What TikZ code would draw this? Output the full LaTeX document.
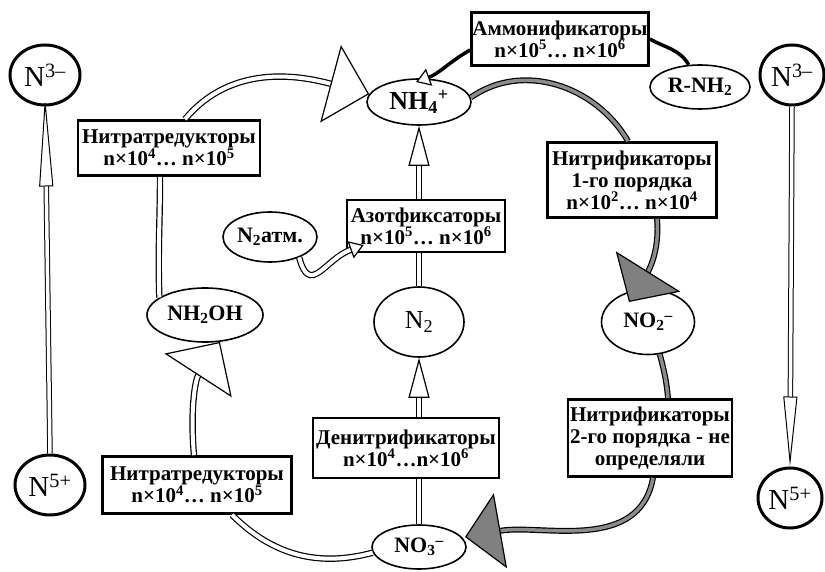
\documentclass[tikz,border=0pt]{standalone}
\usepackage{fontspec}
\setmainfont{Liberation Serif}
\usetikzlibrary{shapes.geometric, arrows.meta, positioning}

\begin{document}
\begin{tikzpicture}[x=1pt, y=1pt,
		box/.style = {rectangle, draw, line width=2.6pt, fill=white, align=center, inner sep=1pt, font=\bfseries\fontsize{21}{22}\selectfont},
		ion/.style = {ellipse, draw, line width=1.6pt, fill=white, inner sep=0pt, font=\bfseries\fontsize{22}{24}\selectfont},
		ox/.style = {ellipse, draw, line width=3pt, fill=white, inner sep=0pt, minimum width=70pt, minimum height=60pt, font=\fontsize{29}{30}\selectfont},
		dline/.style = {draw, line width=1.2pt, double=white, double distance=4pt},
		gline/.style = {draw, line width=1.2pt, double=black!45, double distance=3.5pt},
		bigopen/.style = {-{Triangle[length=40pt, width=80pt, fill=white, line width=1.2pt]}},
		biggray/.style = {-{Triangle[length=36pt, width=76pt, fill=black!50, line width=1.2pt]}},
		upopen/.style = {-{Triangle[length=40pt, width=21pt, fill=white, line width=1.2pt]}},
		smallopen/.style = {-{Triangle[length=14pt, width=18pt, fill=white, line width=1.2pt]}},
		sidetip/.style = {-{Triangle[length=#1, width=14pt, fill=white, line width=1pt]}}
	]
	
	\useasboundingbox (0,0) rectangle (825,571);
	
	% Oxidation states
	\node[ox] (n3left) at (45,496) {N\textsuperscript{3–}};
	\node[ox] (n5left) at (50,86) {N\textsuperscript{5+}};
	\node[ox, minimum width=64pt] (n3right) at (792,496) {N\textsuperscript{3–}};
	\node[ox, minimum width=64pt] (n5right) at (790,73) {N\textsuperscript{5+}};
	
	% Compounds
	\node[ion, minimum width=104pt, minimum height=46pt, font=\bfseries\fontsize{26}{28}\selectfont] (nh4) at (419,469) {NH\textsubscript{4}\textsuperscript{+}};
	\node[ion, minimum width=100pt, minimum height=44pt] (rnh2) at (700,484) {R-NH\textsubscript{2}};
	\node[ion, minimum width=94pt, minimum height=50pt] (n2atm) at (270,334) {N\textsubscript{2}атм.};
	\node[ion, minimum width=116pt, minimum height=54pt] (nh2oh) at (205,256) {NH\textsubscript{2}OH};
	\node[ion, minimum width=90pt, minimum height=70pt, font=\fontsize{26}{28}\selectfont] (n2) at (419,249) {N\textsubscript{2}};
	\node[ion, minimum width=93pt, minimum height=65pt] (no2) at (648,249) {NO\textsubscript{2}\textsuperscript{–}};
	\node[ion, minimum width=94pt, minimum height=44pt] (no3) at (419,24) {NO\textsubscript{3}\textsuperscript{–}};
	
	% Microorganisms
	\node[box, minimum width=176pt, minimum height=53pt] (ammon) at (560,532) {Аммонификаторы\\n×10\textsuperscript{5}… n×10\textsuperscript{6}};
	\node[box, minimum width=182pt, minimum height=55pt] (nitrred1) at (169,423) {Нитратредукторы\\n×10\textsuperscript{4}… n×10\textsuperscript{5}};
	\node[box, minimum width=158pt, minimum height=52pt] (azotfix) at (426,345) {Азотфиксаторы\\n×10\textsuperscript{5}… n×10\textsuperscript{6}};
	\node[box, minimum width=169pt, minimum height=75pt] (nitr1) at (632,391) {Нитрификаторы\\1-го порядка\\n×10\textsuperscript{2}… n×10\textsuperscript{4}};
	\node[box, minimum width=164pt, minimum height=77pt] (nitr2) at (650,133) {Нитрификаторы\\2-го порядка - не\\определяли};
	\node[box, minimum width=186pt, minimum height=60pt] (denitr) at (406,123) {Денитрификаторы\\n×10\textsuperscript{4}…n×10\textsuperscript{6}};
	\node[box, minimum width=189pt, minimum height=57pt] (nitrred2) at (197,86) {Нитратредукторы\\n×10\textsuperscript{4}… n×10\textsuperscript{5}};
	
	% Reduction
	\draw[dline] (nh2oh.159) to[out=92, in=-90] ([xshift=-9pt]nitrred1.south);
	\draw[dline, bigopen] ([xshift=16pt]nitrred1.north) to[out=50, in=165] (nh4.171);
	\draw[dline] (no3.187) to[out=195, in=-45] ([xshift=35pt]nitrred2.south);
	\draw[dline, bigopen] ([xshift=-3pt]nitrred2.north) to[out=95, in=-123] (nh2oh.-61);
	
	% Nitrification
	\draw[gline] (nh4.5) to[out=35, in=120] ([xshift=-4pt]nitr1.north);
	\draw[gline, biggray] ([xshift=25pt]nitr1.south) to[out=-85, in=58] ([shift={(-19pt,20pt)}]no2.center);
	\draw[gline] (no2.-70) to[out=-75, in=95] ([xshift=18pt]nitr2.north);
	\draw[gline, biggray] ([xshift=3pt]nitr2.south) to[out=-100, in=10] ([shift={(46pt,10pt)}]no3.center);
	
	% Ammonification
	\draw[line width=3.5pt] (rnh2.117) to[out=120, in=-30] (ammon.east);
	\draw[line width=3.5pt, smallopen] ([yshift=-11pt]ammon.west) to[out=210, in=20] ([shift={(-3pt,20pt)}]nh4.center);
	
	% Denitrification and fixation
	\draw[dline] (no3.north) -- (no3.north |- denitr.south);
	\draw[dline, upopen] (no3.north |- denitr.north) -- (n2.south);
	\draw[dline] (n2.north) -- (n2.north |- azotfix.south);
	\draw[dline, upopen] (n2.north |- azotfix.north) -- (nh4.south);
	\draw[dline, smallopen] (n2atm.-35) to[out=-75, in=200, looseness=1.6] ([shift={(18pt,-19pt)}]azotfix.west);
	
	% Valence scale
	\draw[dline, double distance=3.5pt, line width=1pt, sidetip=90pt] (n5left.north) -- ([yshift=10pt]n3left.south);
	\draw[dline, double distance=3.5pt, line width=1pt, sidetip=70pt] (n3right.south) -- (n5right.north);
	
\end{tikzpicture}
\end{document}
